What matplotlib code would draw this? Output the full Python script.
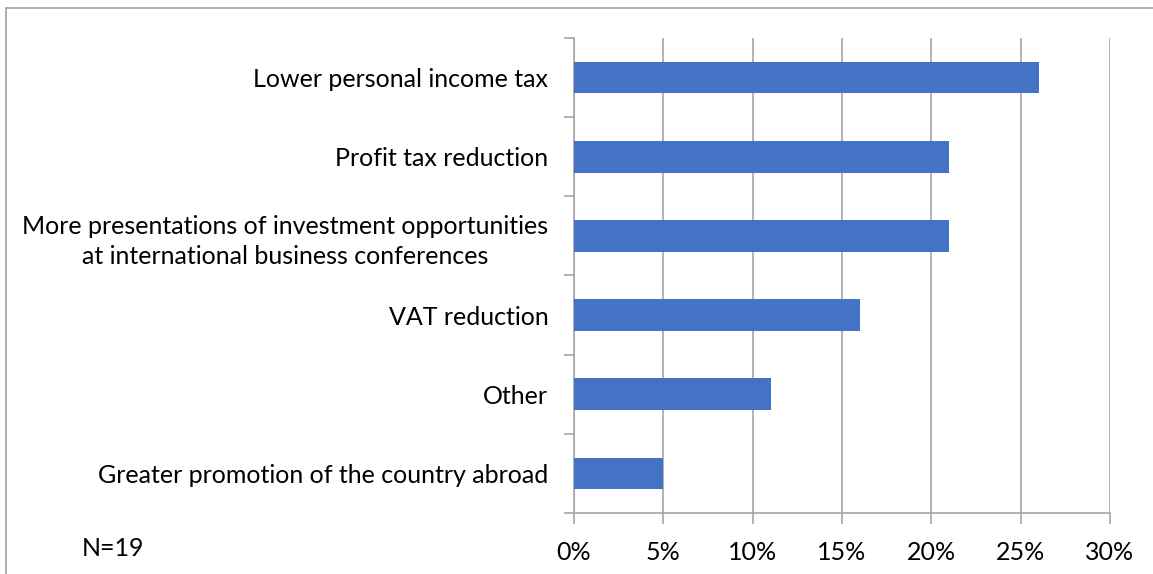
import matplotlib.pyplot as plt
import numpy as np
from matplotlib.patches import Rectangle
from matplotlib.ticker import FixedLocator, PercentFormatter

plt.rcParams['font.family'] = ['Lato', 'DejaVu Sans']

categories = [
    "Lower personal income tax",
    "Profit tax reduction",
    "More presentations of investment opportunities\nat international business conferences",
    "VAT reduction",
    "Other",
    "Greater promotion of the country abroad",
]
shares = [26, 21, 21, 16, 11, 5]
x_ticks = [0, 5, 10, 15, 20, 25, 30]
note = "N=19"

bar_color = "#4472C4"
grid_color = "#A6A6A6"
fs = 18

fig = plt.figure(figsize=(11.53, 5.74), dpi=100)
ax = fig.add_axes([0.4978, 0.1063, 0.4649, 0.8275])

y = np.arange(len(categories))
ax.barh(y, shares, height=0.40, color=bar_color, zorder=3)
ax.set_ylim(len(categories) - 0.5, -0.5)
ax.set_xlim(0, 30)

ax.set_yticks(y)
ax.set_yticklabels(categories, fontsize=fs, multialignment="center", linespacing=1.35)
ax.yaxis.set_minor_locator(FixedLocator(np.arange(-0.5, len(categories), 1)))
ax.tick_params(axis="y", which="major", length=0, pad=18.5)
ax.tick_params(axis="y", which="minor", length=7, color=grid_color, width=1.2)

ax.set_xticks(x_ticks)
ax.xaxis.set_major_formatter(PercentFormatter(decimals=0))
ax.tick_params(axis="x", length=8, color=grid_color, width=1.2, labelsize=fs, pad=12)
ax.grid(axis="x", color=grid_color, linewidth=1.2, zorder=0)

for side in ["top", "right"]:
    ax.spines[side].set_visible(False)
for side in ["left", "bottom"]:
    ax.spines[side].set_color(grid_color)
    ax.spines[side].set_linewidth(1.2)

fig.text(82 / 1153, 1 - 549 / 574, note, fontsize=fs, va="center", ha="left")

# outer frame around the chart
fig.patches.append(Rectangle((6 / 1153, -0.01), 1.02, 1 - 8 / 574 + 0.01,
                             transform=fig.transFigure, fill=False,
                             edgecolor="#A0A0A0", linewidth=1.2))

fig.savefig("out.png", dpi=100)
